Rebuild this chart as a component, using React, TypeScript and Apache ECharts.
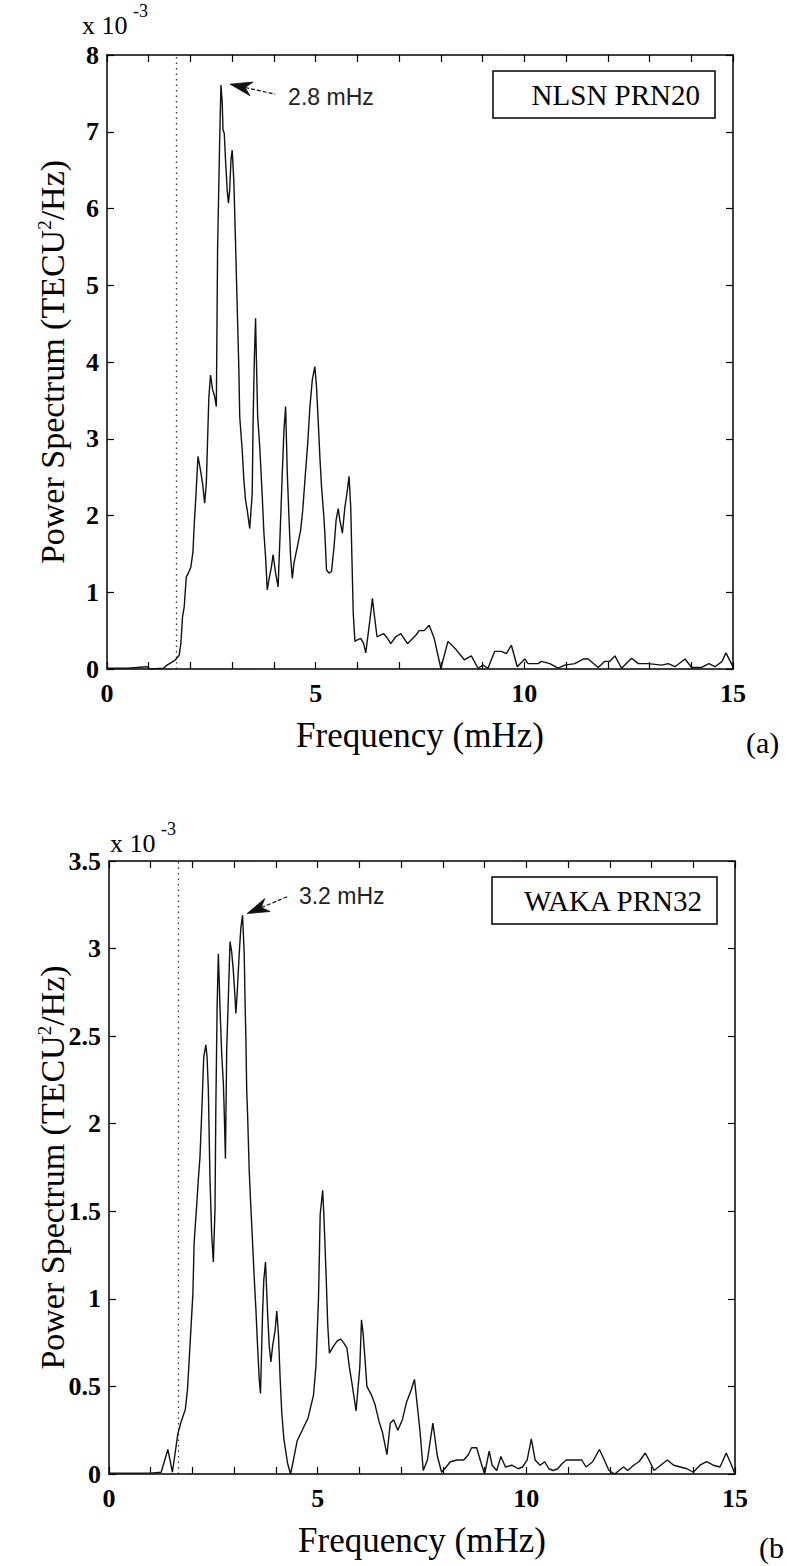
import React, { useEffect, useRef } from "react";
import * as echarts from "echarts";

// ---------- data ----------
const FREQ_A = [
  0, 0.5, 0.95, 1.05, 1.35, 1.44, 1.64, 1.73, 1.77, 1.81,
  1.85, 1.9, 1.95, 2.01, 2.06, 2.09, 2.13, 2.18, 2.24, 2.29,
  2.34, 2.38, 2.41, 2.44, 2.48, 2.53, 2.58, 2.62, 2.65, 2.7,
  2.73, 2.76, 2.78, 2.81, 2.84, 2.88, 2.91, 2.94, 2.97, 3.0,
  3.04, 3.08, 3.12, 3.16, 3.18, 3.24, 3.28, 3.32, 3.36, 3.42,
  3.48, 3.5, 3.53, 3.56, 3.58, 3.61, 3.66, 3.72, 3.76, 3.8,
  3.84, 3.88, 3.94, 3.98, 4.04, 4.1, 4.16, 4.2, 4.24, 4.28,
  4.32, 4.36, 4.4, 4.44, 4.48, 4.56, 4.64, 4.69, 4.76, 4.81,
  4.86, 4.92, 4.98, 5.02, 5.06, 5.1, 5.14, 5.19, 5.22, 5.26,
  5.32, 5.38, 5.44, 5.49, 5.54, 5.58, 5.64, 5.7, 5.75, 5.8,
  5.84, 5.87, 5.9, 5.94, 6.0, 6.08, 6.15, 6.2, 6.27, 6.32,
  6.36, 6.4, 6.47, 6.55, 6.63, 6.72, 6.8, 6.92, 7.04, 7.2,
  7.4, 7.48, 7.6, 7.72, 7.84, 8.0, 8.17, 8.37, 8.56, 8.73,
  8.89, 9.01, 9.13, 9.29, 9.45, 9.57, 9.69, 9.83, 10.01, 10.09,
  10.33, 10.41, 10.61, 10.81, 10.97, 11.21, 11.41, 11.53, 11.77, 11.93,
  12.05, 12.17, 12.33, 12.57, 12.73, 12.97, 13.29, 13.45, 13.61, 13.85,
  14.01, 14.25, 14.42, 14.57, 14.74, 14.83, 14.98, 15.0,
];
const PSD_A = [
  0.01, 0.01, 0.03, 0.0, 0.01, 0.05, 0.12, 0.18, 0.33, 0.68,
  0.81, 1.2, 1.25, 1.33, 1.53, 1.88, 2.25, 2.77, 2.59, 2.42,
  2.16, 2.42, 2.98, 3.53, 3.83, 3.64, 3.55, 3.42, 5.48, 6.89,
  7.61, 7.39, 7.02, 6.98, 6.63, 6.24, 6.07, 6.24, 6.63, 6.76,
  6.35, 5.55, 4.72, 3.9, 3.29, 2.85, 2.46, 2.2, 2.07, 1.83,
  2.29, 3.2, 4.03, 4.57, 4.03, 3.29, 2.9, 2.25, 1.77, 1.46,
  1.03, 1.16, 1.33, 1.49, 1.25, 1.07, 1.94, 2.55, 3.11, 3.42,
  2.55, 1.98, 1.46, 1.18, 1.38, 1.59, 1.81, 2.07, 2.59, 2.94,
  3.4, 3.77, 3.94, 3.68, 3.24, 2.77, 2.38, 2.03, 1.77, 1.29,
  1.25, 1.27, 1.59, 1.94, 2.09, 1.94, 1.77, 2.11, 2.29, 2.51,
  2.11, 1.42, 0.73, 0.36, 0.38, 0.4, 0.33, 0.21, 0.51, 0.73,
  0.92, 0.73, 0.42, 0.44, 0.46, 0.4, 0.33, 0.42, 0.46, 0.33,
  0.44, 0.5, 0.5, 0.57, 0.4, 0.01, 0.36, 0.25, 0.12, 0.17,
  0.01, 0.05, 0.01, 0.23, 0.23, 0.2, 0.31, 0.03, 0.13, 0.07,
  0.07, 0.1, 0.07, 0.01, 0.05, 0.07, 0.13, 0.13, 0.02, 0.1,
  0.1, 0.17, 0.01, 0.14, 0.07, 0.07, 0.05, 0.07, 0.03, 0.13,
  0.02, 0.02, 0.07, 0.03, 0.1, 0.21, 0.05, 0.01,
];

const FREQ_B = [
  0, 1.0, 1.25, 1.41, 1.52, 1.65, 1.73, 1.83, 1.88, 1.94,
  2.01, 2.04, 2.1, 2.14, 2.18, 2.22, 2.27, 2.32, 2.35, 2.38,
  2.42, 2.46, 2.5, 2.54, 2.56, 2.59, 2.62, 2.64, 2.66, 2.7,
  2.74, 2.76, 2.79, 2.82, 2.86, 2.9, 2.94, 2.98, 3.02, 3.04,
  3.07, 3.12, 3.16, 3.2, 3.24, 3.26, 3.28, 3.3, 3.32, 3.36,
  3.4, 3.44, 3.48, 3.52, 3.56, 3.6, 3.63, 3.68, 3.71, 3.75,
  3.8, 3.84, 3.88, 3.92, 3.98, 4.02, 4.06, 4.1, 4.14, 4.19,
  4.28, 4.35, 4.42, 4.51, 4.63, 4.77, 4.9, 4.96, 5.02, 5.06,
  5.12, 5.15, 5.2, 5.24, 5.28, 5.38, 5.47, 5.55, 5.62, 5.7,
  5.76, 5.82, 5.92, 6.01, 6.05, 6.09, 6.13, 6.18, 6.29, 6.37,
  6.47, 6.55, 6.66, 6.74, 6.82, 6.92, 7.03, 7.13, 7.24, 7.32,
  7.45, 7.53, 7.63, 7.76, 7.87, 7.97, 8.08, 8.18, 8.34, 8.5,
  8.61, 8.69, 8.81, 8.92, 9.0, 9.11, 9.18, 9.29, 9.39, 9.5,
  9.65, 9.81, 9.91, 10.02, 10.12, 10.21, 10.33, 10.44, 10.54, 10.64,
  10.75, 10.86, 10.96, 11.12, 11.22, 11.33, 11.43, 11.59, 11.75, 11.85,
  11.98, 12.12, 12.22, 12.33, 12.43, 12.57, 12.7, 12.85, 12.96, 13.06,
  13.22, 13.38, 13.53, 13.69, 13.85, 14.0, 14.16, 14.32, 14.48, 14.64,
  14.79, 14.9, 15.0,
];
const PSD_B = [
  0.005, 0.005, 0.01, 0.14, 0.01, 0.23, 0.3, 0.37, 0.48, 0.73,
  1.03, 1.32, 1.53, 1.68, 1.81, 2.05, 2.38, 2.45, 2.38, 2.2,
  1.68, 1.37, 1.21, 1.51, 2.09, 2.66, 2.97, 2.82, 2.66, 2.4,
  2.23, 2.08, 1.8, 2.42, 2.72, 3.04, 2.98, 2.87, 2.72, 2.63,
  2.74, 2.97, 3.12, 3.19, 2.97, 2.7, 2.49, 2.19, 2.06, 1.73,
  1.52, 1.32, 1.12, 0.94, 0.73, 0.54, 0.46, 0.92, 1.11, 1.21,
  0.92, 0.73, 0.64, 0.73, 0.82, 0.93, 0.8, 0.55, 0.35, 0.2,
  0.06, 0.0, 0.08, 0.19, 0.25, 0.32, 0.45, 0.62, 1.0, 1.48,
  1.62, 1.47, 1.15, 0.86, 0.69, 0.73, 0.76, 0.77, 0.75, 0.72,
  0.61, 0.52, 0.36, 0.61, 0.88, 0.8, 0.67, 0.5, 0.45, 0.4,
  0.3, 0.24, 0.11, 0.29, 0.31, 0.25, 0.31, 0.41, 0.48, 0.54,
  0.25, 0.02, 0.08, 0.29, 0.1, 0.01, 0.04, 0.07, 0.08, 0.08,
  0.11, 0.15, 0.15, 0.06, 0.0, 0.13, 0.05, 0.02, 0.1, 0.04,
  0.05, 0.03, 0.04, 0.08, 0.2, 0.08, 0.05, 0.07, 0.03, 0.02,
  0.03, 0.06, 0.08, 0.08, 0.08, 0.08, 0.04, 0.07, 0.14, 0.09,
  0.02, 0.0, 0.02, 0.04, 0.02, 0.05, 0.07, 0.12, 0.07, 0.02,
  0.05, 0.08, 0.05, 0.04, 0.03, 0.01, 0.05, 0.07, 0.05, 0.04,
  0.12, 0.06, 0.0,
];

const X_MIN = 0;
const X_MAX = 15;
const X_STEP = 1;
const X_LABELS = [0, 5, 10, 15];
const Y_MAX_A = 8;
const Y_STEP_A = 1;
const Y_MAX_B = 3.5;
const Y_STEP_B = 0.5;
const CUTOFF_MHZ = 1.67;
const STATION_A = "NLSN PRN20";
const STATION_B = "WAKA PRN32";
const PEAK_LABEL_A = "2.8 mHz";
const PEAK_LABEL_B = "3.2 mHz";
// arrow tip / tail / label anchor in data units
const ARROW_A = { tip: [2.95, 7.62], tail: [4.03, 7.49], text: [4.34, 7.45] };
const ARROW_B = { tip: [3.31, 3.2], tail: [4.31, 3.3], text: [4.55, 3.3] };

// ---------- layout ----------
const W = 787;
const H = 1566;
const GRID_A = { left: 107, top: 55, width: 626, height: 614 };
const GRID_B = { left: 109, top: 861, width: 626, height: 613 };
const SERIF = "'Liberation Serif', 'Times New Roman', serif";
const SANS = "'Liberation Sans', Arial, sans-serif";
const INK = "#000";

function pairs(xs: number[], ys: number[]) {
  return xs.map((x, i) => [x, ys[i]]);
}

function xAxesFor(gridIndex: number) {
  const base: any = {
    type: "value",
    gridIndex,
    min: X_MIN,
    max: X_MAX,
    interval: X_STEP,
    splitLine: { show: false },
    axisLine: { show: true, onZero: false, lineStyle: { color: INK, width: 1.5 } },
    axisTick: { show: true, inside: true, length: 7, lineStyle: { color: INK, width: 1.2 } },
  };
  return [
    {
      ...base,
      position: "bottom",
      axisLabel: {
        show: true,
        color: INK,
        fontFamily: SERIF,
        fontSize: 26,
        fontWeight: "bold",
        margin: 11,
        formatter: (v: number) => (X_LABELS.includes(v) ? String(v) : ""),
      },
    },
    { ...base, position: "top", axisLabel: { show: false } },
  ];
}

function yAxesFor(gridIndex: number, max: number, step: number) {
  const base: any = {
    type: "value",
    gridIndex,
    min: 0,
    max,
    interval: step,
    splitLine: { show: false },
    axisLine: { show: true, onZero: false, lineStyle: { color: INK, width: 1.5 } },
    axisTick: { show: true, inside: true, length: 7, lineStyle: { color: INK, width: 1.2 } },
  };
  return [
    {
      ...base,
      position: "left",
      axisLabel: { show: true, color: INK, fontFamily: SERIF, fontSize: 26, fontWeight: "bold", margin: 8 },
    },
    { ...base, position: "right", axisLabel: { show: false } },
  ];
}

function spectrumSeries(axisIndex: number, xs: number[], ys: number[]) {
  return {
    type: "line",
    xAxisIndex: axisIndex,
    yAxisIndex: axisIndex,
    data: pairs(xs, ys),
    showSymbol: false,
    symbol: "none",
    lineStyle: { color: "#111", width: 1.4 },
    z: 3,
    markLine: {
      silent: true,
      symbol: "none",
      label: { show: false },
      lineStyle: { color: "#333", type: [1.5, 4], width: 1.3 },
      data: [{ xAxis: CUTOFF_MHZ }],
    },
  };
}

function arrowGraphics(chart: any, axisIndex: number, a: any, label: string) {
  const finder = { xAxisIndex: axisIndex, yAxisIndex: axisIndex };
  const tip = chart.convertToPixel(finder, a.tip);
  const tail = chart.convertToPixel(finder, a.tail);
  const txt = chart.convertToPixel(finder, a.text);
  const dx = tail[0] - tip[0];
  const dy = tail[1] - tip[1];
  const len = Math.hypot(dx, dy);
  const ux = dx / len;
  const uy = dy / len;
  const px = -uy;
  const py = ux;
  const L = 22;
  const hw = 7;
  const base = [tip[0] + ux * L, tip[1] + uy * L];
  const notch = [tip[0] + ux * L * 0.7, tip[1] + uy * L * 0.7];
  return [
    {
      type: "line",
      shape: { x1: notch[0], y1: notch[1], x2: tail[0], y2: tail[1] },
      style: { stroke: "#111", lineWidth: 1.2, lineDash: [4, 2] },
      z: 10,
    },
    {
      type: "polygon",
      shape: {
        points: [
          [tip[0], tip[1]],
          [base[0] + px * hw, base[1] + py * hw],
          notch,
          [base[0] - px * hw, base[1] - py * hw],
        ],
      },
      style: { fill: "#111", stroke: "#111", lineWidth: 0.8 },
      z: 10,
    },
    {
      type: "text",
      x: txt[0],
      y: txt[1],
      style: {
        text: label,
        fill: "#222",
        font: `23px ${SANS}`,
        align: "left",
        verticalAlign: "middle",
      },
      z: 10,
    },
  ];
}

function panelTexts(grid: any, station: string, letter: any, box: any, exp: any) {
  const cx = grid.left + grid.width / 2;
  const cy = grid.top + grid.height / 2;
  const bottom = grid.top + grid.height;
  return [
    // station box
    {
      type: "rect",
      shape: { x: box.x, y: box.y, width: box.w, height: box.h },
      style: { fill: "#fff", stroke: INK, lineWidth: 1.5 },
      z: 8,
    },
    {
      type: "text",
      x: box.x + box.w - 15,
      y: box.y + box.h / 2,
      style: { text: station, fill: INK, font: `29px ${SERIF}`, align: "right", verticalAlign: "middle" },
      z: 9,
    },
    // exponent
    {
      type: "text",
      x: exp.x,
      y: exp.y,
      style: { text: "x 10", fill: INK, font: `26px ${SERIF}`, align: "left", verticalAlign: "middle" },
    },
    {
      type: "text",
      x: exp.x + 51,
      y: exp.y - 14,
      style: { text: "-3", fill: INK, font: `18px ${SERIF}`, align: "left", verticalAlign: "middle" },
    },
    // x axis title
    {
      type: "text",
      x: cx,
      y: bottom + 66,
      style: { text: "Frequency (mHz)", fill: INK, font: `35px ${SERIF}`, align: "center", verticalAlign: "middle" },
    },
    // y axis title
    {
      type: "text",
      x: 52,
      y: cy,
      rotation: Math.PI / 2,
      style: {
        text: "Power Spectrum (TECU{s|2}/Hz)",
        fill: INK,
        font: `34px ${SERIF}`,
        align: "center",
        verticalAlign: "middle",
        rich: {
          s: { fontSize: 19, fontFamily: SERIF, fill: INK, verticalAlign: "top", padding: [0, 0, 14, 0] },
        },
      },
    },
    // panel letter
    {
      type: "text",
      x: letter.x,
      y: bottom + 73,
      style: { text: letter.text, fill: INK, font: `30px ${SERIF}`, align: "left", verticalAlign: "middle" },
    },
  ];
}

export default function App() {
  const ref = useRef<HTMLDivElement>(null);

  useEffect(() => {
    if (!ref.current) return;
    const chart = echarts.init(ref.current, undefined, { renderer: "svg", width: W, height: H });
    const option: any = {
      animation: false,
      backgroundColor: "#fff",
      grid: [
        { ...GRID_A, containLabel: false },
        { ...GRID_B, containLabel: false },
      ],
      xAxis: [...xAxesFor(0), ...xAxesFor(1)],
      yAxis: [...yAxesFor(0, Y_MAX_A, Y_STEP_A), ...yAxesFor(1, Y_MAX_B, Y_STEP_B)],
      series: [spectrumSeries(0, FREQ_A, PSD_A), spectrumSeries(2, FREQ_B, PSD_B)],
    };
    chart.setOption(option);

    const graphic = [
      ...panelTexts(
        GRID_A,
        STATION_A,
        { text: "(a)", x: 746 },
        { x: 493, y: 71, w: 222, h: 47 },
        { x: 82, y: 25 }
      ),
      ...panelTexts(
        GRID_B,
        STATION_B,
        { text: "(b", x: 759 },
        { x: 492, y: 877, w: 225, h: 47 },
        { x: 110, y: 843 }
      ),
      ...arrowGraphics(chart, 0, ARROW_A, PEAK_LABEL_A),
      ...arrowGraphics(chart, 2, ARROW_B, PEAK_LABEL_B),
    ];
    chart.setOption({ graphic });

    return () => chart.dispose();
  }, []);

  return (
    <div
      ref={ref}
      style={{ position: "absolute", left: 0, top: 0, width: W, height: H, background: "#fff", overflow: "hidden" }}
    />
  );
}
